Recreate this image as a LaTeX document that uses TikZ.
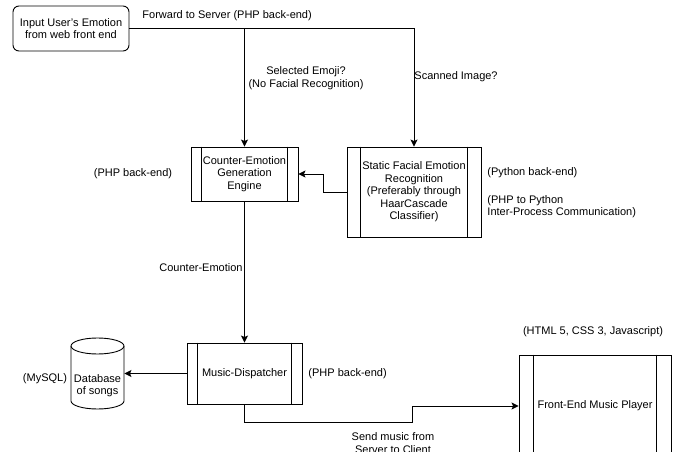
\documentclass[tikz,border=0pt]{standalone}
\usepackage{fontspec}
\setmainfont{Liberation Sans}
\usetikzlibrary{arrows.meta}
\begin{document}
\begin{tikzpicture}[x=1pt,y=-1pt, line width=0.9pt,
 every node/.style={font=\fontsize{11}{12.5}\selectfont},
 box/.style={draw, rectangle, inner sep=0pt, align=center},
 lbl/.style={inner sep=0pt, align=center},
 arr/.style={-{Stealth[length=7pt,width=7pt,inset=1.5pt]}}]
\useasboundingbox (0,0) rectangle (675,452);
\clip (0,0) rectangle (675,452);

% nodes
\node[box, rounded corners=6pt, minimum width=116pt, minimum height=45pt] (inp) at (71,28.5) {Input User's Emotion\\from web front end};
\node[box, minimum width=107pt, minimum height=54pt] (cnt) at (244.5,174) {Counter-Emotion\\Generation\\Engine};
\node[box, minimum width=134pt, minimum height=90pt] (stat) at (414,192) {Static Facial Emotion\\Recognition\\(Preferably through\\HaarCascade\\Classifier)};
\node[box, minimum width=115pt, minimum height=61pt] (disp) at (244.5,373.5) {Music-Dispatcher};
\node[inner sep=0pt, minimum width=53pt, minimum height=71pt] (db) at (97.5,373.5) {};
\node[box, minimum width=152pt, minimum height=102pt] (front) at (595,406) {Front-End Music Player};

% inner bars of process boxes
\foreach \n/\d in {cnt/11pt, stat/14pt, disp/11pt, front/15pt}{
  \draw ([xshift=\d]\n.north west) -- ([xshift=\d]\n.south west);
  \draw ([xshift=-\d]\n.north east) -- ([xshift=-\d]\n.south east);
}

% cylinder
\draw (71,346) -- (71,401) arc[start angle=180, end angle=0, x radius=26.5, y radius=8] -- (124,346);
\draw (97.5,346) ellipse[x radius=26.5, y radius=8];
\node[lbl] (dbtxt) at (97.5,385.5) {Database\\of songs};

% connectors
\coordinate (br) at (cnt.north |- inp.east);
\draw[arr] (inp.east) -| (stat.north);
\draw[arr] (br) -- (cnt.north);
\coordinate (e1) at (323,192);
\draw[arr] (stat.west) -- (e1) |- (cnt.east);
\draw[arr] (cnt.south) -- (disp.north);
\draw[arr] (disp.west) -- (db.east);
\coordinate (s1) at (244.5,422);
\coordinate (s2) at (412,422);
\coordinate (s3) at (412,406);
\draw[arr] (disp.south) -- (s1) -- (s2) -- (s3) -- (front.west);

% labels
\node[lbl, anchor=west] (l1) at (142,16) {Forward to Server (PHP back-end)};
\node[lbl] (l2) at (306,78) {Selected Emoji?\\(No Facial Recognition)};
\node[lbl, anchor=west] (l3) at (414,77) {Scanned Image?};
\node[lbl] (l4) at (133,174) {(PHP back-end)};
\node[lbl, anchor=west] (l5) at (487,173) {(Python back-end)};
\node[lbl, anchor=west, align=left] (l6) at (487,206.5) {(PHP to Python\\Inter-Process Communication)};
\node[lbl] (l7) at (201,268) {Counter-Emotion};
\node[lbl] (l8) at (45,379) {(MySQL)};
\node[lbl, anchor=west] (l9) at (308,374) {(PHP back-end)};
\node[lbl] (l10) at (593,332) {(HTML 5, CSS 3, Javascript)};
\node[lbl] (l11) at (393,443) {Send music from\\Server to Client};
\end{tikzpicture}
\end{document}
